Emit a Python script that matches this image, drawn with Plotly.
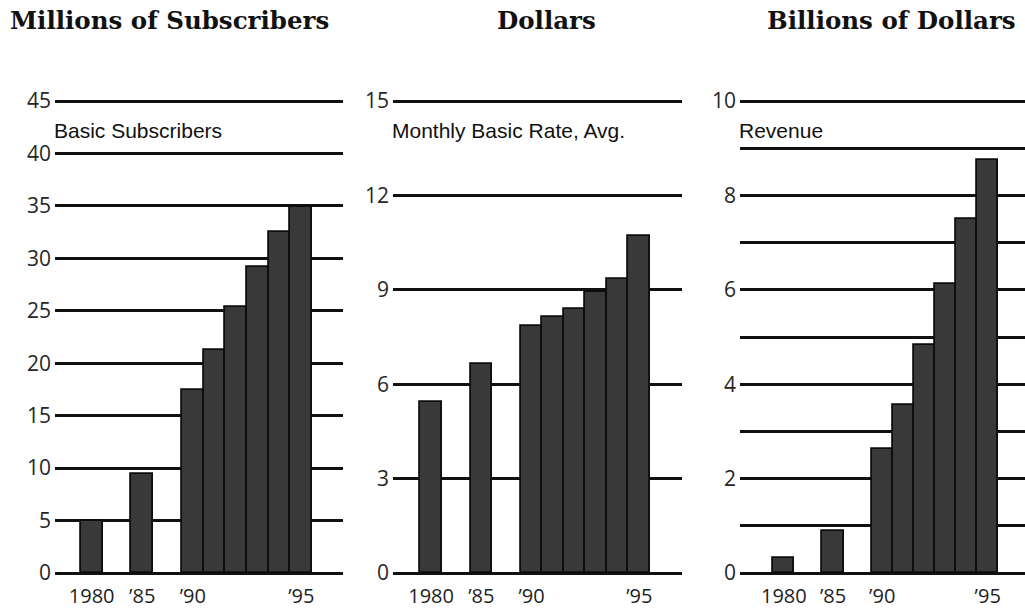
import plotly.graph_objects as go

# Cable TV statistics, 1980-1995
years = [1980, 1985, 1990, 1991, 1992, 1993, 1994, 1995]
year_labels = {1980: "1980", 1985: "\u201985", 1990: "\u201990", 1995: "\u201995"}

subscribers = [5.0, 9.4, 17.4, 21.3, 25.4, 29.2, 32.5, 34.9]      # millions
monthly_rate = [5.44, 6.63, 7.85, 8.14, 8.40, 8.93, 9.33, 10.70]  # dollars
revenue = [0.32, 0.89, 2.62, 3.55, 4.84, 6.12, 7.51, 8.74]        # billions of dollars

panel_titles = ["Millions of Subscribers", "Dollars", "Billions of Dollars"]
series_names = ["Basic Subscribers", "Monthly Basic Rate, Avg.", "Revenue"]

W, H = 1025, 612

# slot positions: the two early years sit apart, the 1990s bars touch
EARLY_GAP = 2.33
def slot(i, y):
    return i * EARLY_GAP if y < 1990 else 2 * EARLY_GAP + (y - 1990)

xpos = [slot(i, y) for i, y in enumerate(years)]

# per panel: data, y max, grid step, labelled step, pixel extents of the plot area
panels = [
    dict(vals=subscribers, ymax=45, grid=5, lab=5, x0=55, x1=343, slotw=21.7, c1990=192.8),
    dict(vals=monthly_rate, ymax=15, grid=3, lab=3, x0=393, x1=682, slotw=21.55, c1990=531.5),
    dict(vals=revenue, ymax=10, grid=1, lab=2, x0=740, x1=1025, slotw=21.1, c1990=882.2),
]

Y_BOT, Y_TOP = 573, 101  # pixel rows of 0 and of the top gridline
PAD = 3                  # px of headroom so edge gridlines are not clipped

fig = go.Figure()
layout = dict(
    width=W, height=H, margin=dict(l=0, r=0, t=0, b=0, autoexpand=False),
    paper_bgcolor="white", plot_bgcolor="white", showlegend=False,
    bargap=0,
)

annotations = []
for k, p in enumerate(panels):
    ax = "" if k == 0 else str(k + 1)
    fig.add_trace(go.Bar(
        x=xpos, y=p["vals"], width=1.0,
        marker=dict(color="#393939", line=dict(color="#0d0d0d", width=1.8)),
        xaxis="x" + ax, yaxis="y" + ax, hoverinfo="skip",
    ))
    # x range in slot units from the pixel extents
    off = xpos[2]
    xr0 = off + (p["x0"] - p["c1990"]) / p["slotw"]
    xr1 = off + (p["x1"] - p["c1990"]) / p["slotw"]
    ppu = (Y_BOT - Y_TOP) / p["ymax"]
    padv = PAD / ppu
    ticks = [v * p["grid"] for v in range(int(round(p["ymax"] / p["grid"])) + 1)]
    ticktext = [
        (f"{t:g}" if abs(t / p["lab"] - round(t / p["lab"])) < 1e-9 else "") for t in ticks
    ]
    layout["xaxis" + ax] = dict(
        domain=[p["x0"] / W, min(p["x1"] / W, 1.0)], range=[xr0, xr1],
        anchor="y" + ax, showgrid=False, zeroline=False, showline=False,
        automargin=False,
        tickmode="array",
        tickvals=[xpos[i] for i, y in enumerate(years) if y in year_labels],
        ticktext=[year_labels[y] for y in years if y in year_labels],
        ticks="", ticklabelstandoff=6,
        tickfont=dict(family="Open Sans", size=20, color="#1e1e1e"),
        fixedrange=True,
    )
    layout["yaxis" + ax] = dict(
        domain=[(H - Y_BOT - PAD) / H, (H - Y_TOP + PAD) / H],
        range=[-padv, p["ymax"] + padv], anchor="x" + ax,
        automargin=False,
        tickmode="array", tickvals=ticks, ticktext=ticktext,
        showgrid=True, gridcolor="#111111", gridwidth=3,
        zeroline=False, showline=False, ticks="",
        ticklabelstandoff=3,
        tickfont=dict(family="Open Sans", size=21, color="#262626"),
        fixedrange=True,
    )
    annotations.append(dict(
        text=series_names[k], x=(p["x0"] - 3) / W, y=1 - 130 / H,
        xref="paper", yref="paper",
        xanchor="left", yanchor="middle", showarrow=False,
        font=dict(family="Liberation Sans", size=21, color="#111111"),
    ))

# bold serif headings above each panel
title_x = [169, 546, 891]
for k, t in enumerate(panel_titles):
    annotations.append(dict(
        text=f"<b>{t}</b>", x=title_x[k] / W, y=1 - 21 / H, xref="paper", yref="paper",
        xanchor="center", yanchor="middle", showarrow=False,
        font=dict(family="DejaVu Serif", size=24.5, color="#111111"),
    ))

layout["annotations"] = annotations
fig.update_layout(**layout)
fig.write_html("out.html")
